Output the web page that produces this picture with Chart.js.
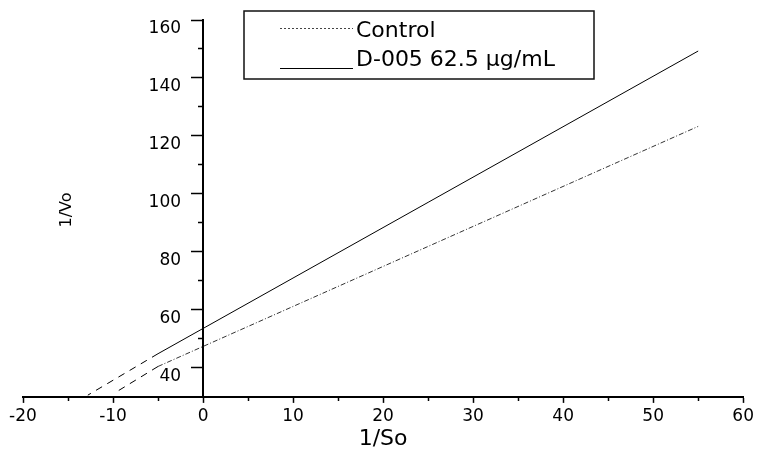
<!DOCTYPE html>
<html>
<head>
<meta charset="utf-8">
<script src="https://cdn.jsdelivr.net/npm/chart.js@4.4.1/dist/chart.umd.min.js"></script>
<style>
  html, body { margin: 0; padding: 0; background: #fff; }
  #wrap { width: 757px; height: 449px; }
</style>
</head>
<body>
<div id="wrap"><canvas id="lbChart"></canvas></div>
<script>
// values
const controlX = [-5, 55];
const controlY = [40.5, 123.3];
const d005X = [-5, 55];
const d005Y = [44.9, 149.3];
// dashed extrapolation to the x axis
const controlExtX = [-5, -9.8];
const controlExtY = [40.5, 31.4];
const d005ExtX = [-5, -12.8];
const d005ExtY = [44.9, 30.6];

const xTicks = [-20, -10, 0, 10, 20, 30, 40, 50, 60];
const xMinorTicks = [-15, -5, 5, 15, 25, 35, 45, 55];
const yTicks = [40, 60, 80, 100, 120, 140, 160];
const yMinorTicks = [50, 70, 90, 110, 130, 150];
const seriesLabels = ["Control", "D-005 62.5 μg/mL"];
const xTitle = "1/So";
const yTitle = "1/Vo";

function toPoints(xs, ys) {
    return xs.map((x, i) => ({ x: x, y: ys[i] }));
}

function fixedTicks(list) {
    return function (axis) {
        axis.ticks = list.map((v) => ({ value: v }));
    };
}

Chart.defaults.font.family = "DejaVu Sans";
Chart.defaults.color = "#000";

// legend box, y tick labels left of the centred axis, rotated y title
const extras = {
    id: "extras",
    afterDraw(chart) {
        const ctx = chart.ctx;
        const xs = chart.scales.x;
        const ys = chart.scales.y;
        ctx.save();
        ctx.strokeStyle = "#111";
        ctx.lineWidth = 1.5;
        ctx.strokeRect(244, 11, 350, 68);

        ctx.font = "22px 'DejaVu Sans'";
        ctx.fillStyle = "#000";
        ctx.textBaseline = "alphabetic";
        ctx.textAlign = "left";

        // Control row
        ctx.strokeStyle = "#444";
        ctx.lineWidth = 1;
        ctx.setLineDash([2, 2]);
        ctx.beginPath();
        ctx.moveTo(280, 28.5);
        ctx.lineTo(353, 28.5);
        ctx.stroke();
        ctx.fillText(seriesLabels[0], 356, 36.7);

        // D-005 row
        ctx.setLineDash([]);
        ctx.strokeStyle = "#000";
        ctx.beginPath();
        ctx.moveTo(280, 68.5);
        ctx.lineTo(353, 68.5);
        ctx.stroke();
        ctx.fillText(seriesLabels[1], 356, 65.7);

        // y tick labels
        ctx.font = "17px 'DejaVu Sans'";
        ctx.textAlign = "right";
        ctx.textBaseline = "middle";
        const axisX = xs.getPixelForValue(0);
        yTicks.forEach((v) => {
            ctx.fillText(String(v), axisX - 22, ys.getPixelForValue(v) + 9);
        });

        // y title
        ctx.font = "16px 'DejaVu Sans'";
        ctx.translate(67, 210);
        ctx.rotate(-Math.PI / 2);
        ctx.textAlign = "center";
        ctx.fillText(yTitle, 0, 0);
        ctx.restore();
    },
};

const ctx = document.getElementById("lbChart").getContext("2d");
new Chart(ctx, {
    type: "line",
    data: {
        datasets: [
            {
                label: seriesLabels[0],
                data: toPoints(controlX, controlY),
                borderColor: "#333",
                borderWidth: 1,
                borderDash: [5, 2, 1, 2],
                pointRadius: 0,
                fill: false,
            },
            {
                label: seriesLabels[1],
                data: toPoints(d005X, d005Y),
                borderColor: "#000",
                borderWidth: 1,
                pointRadius: 0,
                fill: false,
            },
            {
                data: toPoints(controlExtX, controlExtY),
                borderColor: "#000",
                borderWidth: 1,
                borderDash: [7, 6],
                pointRadius: 0,
                fill: false,
            },
            {
                data: toPoints(d005ExtX, d005ExtY),
                borderColor: "#000",
                borderWidth: 1,
                borderDash: [7, 6],
                pointRadius: 0,
                fill: false,
            },
        ],
    },
    options: {
        responsive: true,
        maintainAspectRatio: false,
        animation: false,
        layout: {
            padding: { left: 23, right: 12, top: 20, bottom: 0 },
        },
        plugins: {
            legend: { display: false },
            tooltip: { enabled: false },
        },
        scales: {
            x: {
                type: "linear",
                position: "bottom",
                min: -20,
                max: 60,
                afterBuildTicks: fixedTicks(xTicks),
                border: { color: "#000", width: 2 },
                grid: {
                    drawOnChartArea: false,
                    tickLength: 6,
                    tickColor: "#000",
                    tickWidth: 1.5,
                },
                ticks: { font: { size: 17 }, padding: 3, maxRotation: 0 },
                title: {
                    display: true,
                    text: xTitle,
                    font: { size: 22, lineHeight: 0.85 },
                    padding: { top: 1, bottom: 0 },
                },
            },
            xMinor: {
                type: "linear",
                axis: "x",
                position: { y: 30 },
                min: -20,
                max: 60,
                afterBuildTicks: fixedTicks(xMinorTicks),
                border: { display: false },
                grid: {
                    drawOnChartArea: false,
                    tickLength: 4,
                    tickColor: "#000",
                    tickWidth: 1.5,
                },
                ticks: { display: false },
            },
            y: {
                type: "linear",
                position: { x: 0 },
                min: 30,
                max: 160,
                afterBuildTicks: fixedTicks(yTicks),
                border: { color: "#000", width: 2 },
                grid: {
                    drawOnChartArea: false,
                    tickLength: 11,
                    tickColor: "#000",
                    tickWidth: 1.5,
                },
                ticks: { display: false },
            },
            yMinor: {
                type: "linear",
                axis: "y",
                position: { x: 0 },
                min: 30,
                max: 160,
                afterBuildTicks: fixedTicks(yMinorTicks),
                border: { display: false },
                grid: {
                    drawOnChartArea: false,
                    tickLength: 5,
                    tickColor: "#000",
                    tickWidth: 1.5,
                },
                ticks: { display: false },
            },
        },
    },
    plugins: [extras],
});
</script>
</body>
</html>
